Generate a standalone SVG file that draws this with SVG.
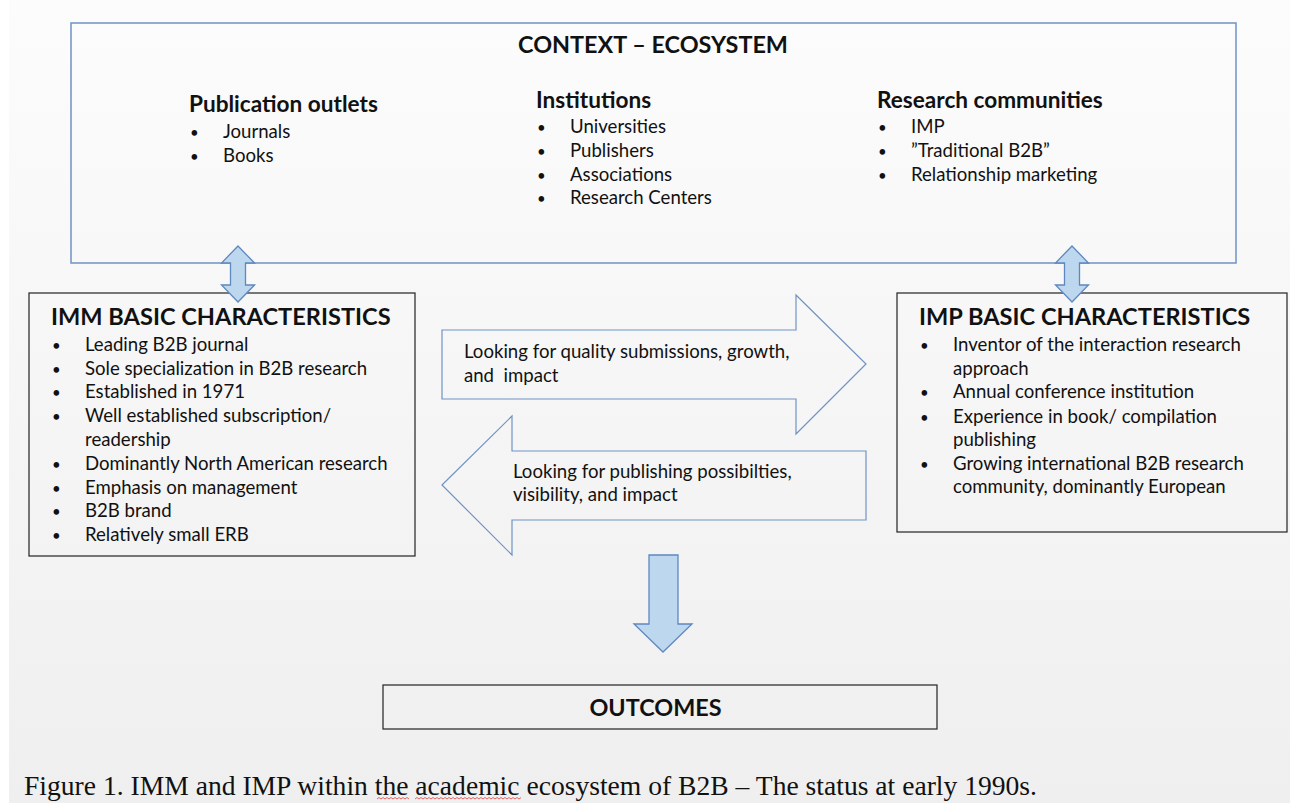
<svg xmlns="http://www.w3.org/2000/svg" width="1290" height="803" viewBox="0 0 1290 803">
  <defs>
    <linearGradient id="panel" x1="0" y1="0" x2="0" y2="1">
      <stop offset="0" stop-color="#fcfcfc"/>
      <stop offset="1" stop-color="#efefef"/>
    </linearGradient>
    <style>
      .t { font-family: Lato, "Liberation Sans", sans-serif; fill: #111; }
      .h1 { font-size: 23.4px; font-weight: bold; }
      .h2 { font-size: 22.6px; font-weight: bold; }
      .h3 { font-size: 23.6px; font-weight: bold; }
      .b { font-size: 18.6px; }
      .dot { font-size: 15px; }
      .box { fill: none; stroke: #222; stroke-width: 1.2; }
      .ctx { fill: none; stroke: #6f93c3; stroke-width: 1.5; }
      .blk { fill: #bdd7ee; stroke: #5f88bf; stroke-width: 1.3; stroke-linejoin: miter; }
      .flow { fill: none; stroke: #6f93c3; stroke-width: 1.2; }
      .cap { font-family: "Liberation Serif", "Times New Roman", serif; font-size: 27.5px; fill: #111; }
      .squig { fill: none; stroke: #e04040; stroke-width: 0.8; }
    </style>
  </defs>

  <!-- page background -->
  <rect x="0" y="0" width="1290" height="803" fill="#ffffff"/>
  <rect x="9" y="0" width="1281" height="803" fill="url(#panel)"/>

  <!-- ecosystem context -->
  <g id="context">
    <rect class="ctx" x="71" y="23" width="1165" height="240"/>
    <text class="t h1" x="653" y="53" text-anchor="middle">CONTEXT – ECOSYSTEM</text>
    <g id="publication-outlets">
      <text class="t h2" x="189" y="111.5">Publication outlets</text>
      <text class="t b" x="190" y="138"><tspan class="dot">•</tspan><tspan x="223">Journals</tspan></text>
      <text class="t b" x="190" y="162"><tspan class="dot">•</tspan><tspan x="223">Books</tspan></text>
    </g>
    <g id="institutions">
      <text class="t h2" x="536" y="107.5">Institutions</text>
      <text class="t b" x="537" y="133"><tspan class="dot">•</tspan><tspan x="570">Universities</tspan></text>
      <text class="t b" x="537" y="157"><tspan class="dot">•</tspan><tspan x="570">Publishers</tspan></text>
      <text class="t b" x="537" y="181"><tspan class="dot">•</tspan><tspan x="570">Associations</tspan></text>
      <text class="t b" x="537" y="204"><tspan class="dot">•</tspan><tspan x="570">Research Centers</tspan></text>
    </g>
    <g id="research-communities">
      <text class="t h2" x="877" y="107.5">Research communities</text>
      <text class="t b" x="878" y="133"><tspan class="dot">•</tspan><tspan x="911">IMP</tspan></text>
      <text class="t b" x="878" y="157"><tspan class="dot">•</tspan><tspan x="911">”Traditional B2B”</tspan></text>
      <text class="t b" x="878" y="181"><tspan class="dot">•</tspan><tspan x="911">Relationship marketing</tspan></text>
    </g>
  </g>

  <!-- IMM -->
  <g id="imm">
    <rect class="box" x="29" y="293" width="386" height="263"/>
    <text class="t h3" x="51" y="324.5">IMM BASIC CHARACTERISTICS</text>
    <text class="t b" x="52" y="351"><tspan class="dot">•</tspan><tspan x="85">Leading B2B journal</tspan></text>
    <text class="t b" x="52" y="375"><tspan class="dot">•</tspan><tspan x="85">Sole specialization in B2B research</tspan></text>
    <text class="t b" x="52" y="398"><tspan class="dot">•</tspan><tspan x="85">Established in 1971</tspan></text>
    <text class="t b" x="52" y="422"><tspan class="dot">•</tspan><tspan x="85">Well established subscription/</tspan></text>
    <text class="t b" x="85" y="446">readership</text>
    <text class="t b" x="52" y="470"><tspan class="dot">•</tspan><tspan x="85">Dominantly North American research</tspan></text>
    <text class="t b" x="52" y="494"><tspan class="dot">•</tspan><tspan x="85">Emphasis on management</tspan></text>
    <text class="t b" x="52" y="517"><tspan class="dot">•</tspan><tspan x="85">B2B brand</tspan></text>
    <text class="t b" x="52" y="541"><tspan class="dot">•</tspan><tspan x="85">Relatively small ERB</tspan></text>
  </g>

  <!-- IMP -->
  <g id="imp">
    <rect class="box" x="897" y="293" width="390" height="239"/>
    <text class="t h3" x="919" y="324.5">IMP BASIC CHARACTERISTICS</text>
    <text class="t b" x="920" y="351"><tspan class="dot">•</tspan><tspan x="953">Inventor of the interaction research</tspan></text>
    <text class="t b" x="953" y="375">approach</text>
    <text class="t b" x="920" y="398"><tspan class="dot">•</tspan><tspan x="953">Annual conference institution</tspan></text>
    <text class="t b" x="920" y="423"><tspan class="dot">•</tspan><tspan x="953">Experience in book/ compilation</tspan></text>
    <text class="t b" x="953" y="446">publishing</text>
    <text class="t b" x="920" y="470"><tspan class="dot">•</tspan><tspan x="953">Growing international B2B research</tspan></text>
    <text class="t b" x="953" y="493">community, dominantly European</text>
  </g>

  <!-- OUTCOMES -->
  <g id="outcomes">
    <rect class="box" x="383" y="685" width="554" height="44"/>
    <text class="t" x="655.5" y="715.5" text-anchor="middle" font-size="23.4" font-weight="bold">OUTCOMES</text>
  </g>

  <!-- connectors -->
  <g id="connectors">
    <g id="flow-to-imp">
      <polygon class="flow" points="442,330 796,330 796,295 866,364 796,434 796,399 442,399"/>
      <text class="t b" x="464" y="358">Looking for quality submissions, growth,</text>
      <text class="t b" x="464" y="382" xml:space="preserve">and  impact</text>
    </g>
    <g id="flow-to-imm">
      <polygon class="flow" points="442,485 512,416 512,451 866,451 866,520 512,520 512,555"/>
      <text class="t b" x="513" y="478">Looking for publishing possibilties,</text>
      <text class="t b" x="513" y="501">visibility, and impact</text>
    </g>
    <polygon id="context-imm" class="blk" points="238,246 254.5,263 245.5,263 245.5,285 254.5,285 238,302 221.5,285 230.5,285 230.5,263 221.5,263"/>
    <polygon id="context-imp" class="blk" points="1072,246 1088.5,263 1079.5,263 1079.5,285 1088.5,285 1072,302 1055.5,285 1064.5,285 1064.5,263 1055.5,263"/>
    <polygon id="to-outcomes" class="blk" points="649,555 678,555 678,624 692,624 663,652 634,624 649,624"/>
  </g>

  <!-- caption -->
  <text class="cap" x="24" y="795" textLength="1013" lengthAdjust="spacingAndGlyphs">Figure 1. IMM and IMP within the academic ecosystem of B2B – The status at early 1990s.</text>
  <path class="squig" d="M377,799 l2,-1.5 l2,1.5 l2,-1.5 l2,1.5 l2,-1.5 l2,1.5 l2,-1.5 l2,1.5 l2,-1.5 l2,1.5 l2,-1.5 l2,1.5 l2,-1.5 l2,1.5 l2,-1.5 l2,1.5"/>
  <path class="squig" d="M415,799 l2,-1.5 l2,1.5 l2,-1.5 l2,1.5 l2,-1.5 l2,1.5 l2,-1.5 l2,1.5 l2,-1.5 l2,1.5 l2,-1.5 l2,1.5 l2,-1.5 l2,1.5 l2,-1.5 l2,1.5 l2,-1.5 l2,1.5 l2,-1.5 l2,1.5 l2,-1.5 l2,1.5 l2,-1.5 l2,1.5 l2,-1.5 l2,1.5 l2,-1.5 l2,1.5 l2,-1.5 l2,1.5 l2,-1.5 l2,1.5 l2,-1.5 l2,1.5 l2,-1.5 l2,1.5 l2,-1.5 l2,1.5 l2,-1.5 l2,1.5 l2,-1.5 l2,1.5 l2,-1.5 l2,1.5 l2,-1.5 l2,1.5 l2,-1.5 l2,1.5 l2,-1.5 l2,1.5 l2,-1.5 l2,1.5 l2,-1.5"/>
</svg>
